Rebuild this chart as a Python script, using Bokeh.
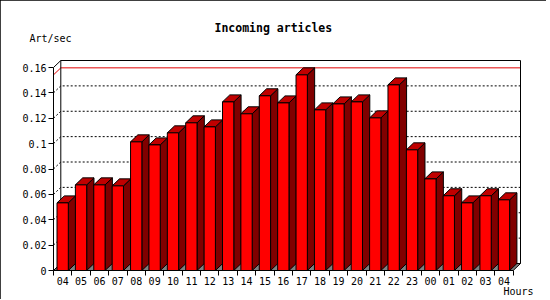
from bokeh.plotting import figure
from bokeh.models import (Range1d, FixedTicker, CustomJSTickFormatter, Title, LinearAxis)
from bokeh.embed import file_html
from bokeh.resources import INLINE

# ---- data ----
hours = ["04", "05", "06", "07", "08", "09", "10", "11", "12", "13", "14", "15",
         "16", "17", "18", "19", "20", "21", "22", "23", "00", "01", "02", "03", "04"]
rates = [0.0533, 0.0675, 0.0675, 0.0667, 0.1014, 0.0990, 0.1085, 0.1164, 0.1132,
         0.1329, 0.1235, 0.1377, 0.1321, 0.1542, 0.1266, 0.1313, 0.1329, 0.1203,
         0.1463, 0.0951, 0.0722, 0.0589, 0.0533, 0.0589, 0.0557]
y_ticks = [0, 0.02, 0.04, 0.06, 0.08, 0.10, 0.12, 0.14, 0.16]
grid_values = [0.02, 0.04, 0.06, 0.08, 0.10, 0.12, 0.14]
chart_title = "Incoming articles"
y_label = "Art/sec"
x_label = "Hours"

# ---- geometry (pixels) ----
W, H = 546, 299
FRAME_L, FRAME_B = 53, 29
FRAME_W, FRAME_H = 469, 211
PPX = 18.388      # px per category
PPY = 1268.75     # px per unit of value
D = 7.3 / PPX     # depth in x units
DY = 7.0 / PPY    # depth in y units
BAR_OFF = 3.5 / PPX
BAR_W = 11.3 / PPX
n = len(hours)
ytop = y_ticks[-1]
FONT = "DejaVu Sans Mono"

p = figure(width=W, height=H, output_backend="svg", toolbar_location=None,
           x_range=Range1d(0, FRAME_W / PPX), y_range=Range1d(0, FRAME_H / PPY),
           min_border_left=FRAME_L, min_border_right=W - FRAME_L - FRAME_W,
           min_border_top=H - FRAME_B - FRAME_H, min_border_bottom=FRAME_B,
           background_fill_color="white", border_fill_color="white")
p.outline_line_color = None
p.grid.visible = False
p.styles = {"outline": "1px solid black", "outline-offset": "-1px"}

# ---- main axes (grab them before adding any other axis) ----
xa = p.below[0]
ya = p.left[0]

ya.ticker = FixedTicker(ticks=y_ticks)
ya.formatter = CustomJSTickFormatter(
    code="return tick.toFixed(2).replace(/0+$/, '').replace(/\\.$/, '');")
ya.bounds = (0, ytop)
ya.major_tick_out = 5
ya.major_tick_in = 0
ya.minor_tick_line_color = None
ya.major_label_standoff = 2
ya.axis_line_color = "black"
ya.major_tick_line_color = "black"
ya.major_label_text_font = FONT
ya.major_label_text_font_size = "10px"
ya.major_label_text_color = "black"

xa.ticker = FixedTicker(ticks=[i + 0.5 for i in range(n)],
                        minor_ticks=[i for i in range(n + 1)])
xa.formatter = CustomJSTickFormatter(args=dict(labels=hours),
                                     code="return labels[Math.floor(tick)] || '';")
xa.bounds = (0, n)
xa.major_tick_line_color = None
xa.major_tick_out = 4
xa.major_tick_in = 0
xa.minor_tick_out = 5
xa.minor_tick_in = 0
xa.minor_tick_line_color = "black"
xa.major_label_standoff = 1
xa.axis_line_color = "black"
xa.major_label_text_font = FONT
xa.major_label_text_font_size = "10px"
xa.major_label_text_color = "black"

# ---- titles ----
p.title.text = chart_title
p.title.align = "left"
p.title.offset = 161
p.title.standoff = -11
p.title.text_font = FONT
p.title.text_font_size = "11.5px"
p.title.text_font_style = "bold"
p.title.text_color = "black"

# unit label above the value axis (drawn as a single-tick axis label)
unit_axis = LinearAxis(
    ticker=FixedTicker(ticks=[0]),
    formatter=CustomJSTickFormatter(args=dict(text=y_label + "\u00a0"), code="return text;"),
    axis_line_color=None, major_tick_line_color=None, minor_tick_line_color=None,
    major_tick_out=0, major_tick_in=0, minor_tick_out=0, minor_tick_in=0,
    major_label_standoff=16, major_label_text_font=FONT,
    major_label_text_font_size="10px", major_label_text_color="black")
p.add_layout(unit_axis, "above")

p.add_layout(Title(text=x_label, align="right", offset=-11, standoff=-8, text_font=FONT,
                   text_font_size="10px", text_font_style="normal",
                   text_color="black"), "below")

# floor
p.patch([0, n, n + D, D], [0, 0, DY, DY], fill_color="#808080",
        line_color="black", line_width=1)

# dotted grid lines on back wall + left side
gx = [[0, D, n + D] for _ in grid_values]
gy = [[g, g + DY, g + DY] for g in grid_values]
p.multi_line(gx, gy, line_color="black", line_width=1, line_dash="2 2")

# max line in red
vmax = max(rates)
p.line([0, D, n + D], [vmax, vmax + DY, vmax + DY], line_color="#e00000", line_width=1)

# back wall frame
p.line([0, D, n + D, n + D], [ytop, ytop + DY, ytop + DY, DY], line_color="black", line_width=1)
p.line([D, D], [DY, ytop + DY], line_color="black", line_width=1)

# bars
fx, fy, sx, sy, tx, ty = [], [], [], [], [], []
for i, v in enumerate(rates):
    x0 = i + BAR_OFF
    x1 = x0 + BAR_W
    fx.append([x0, x1, x1, x0]); fy.append([0, 0, v, v])
    sx.append([x1, x1 + D, x1 + D, x1]); sy.append([0, DY, v + DY, v])
    tx.append([x0, x1, x1 + D, x0 + D]); ty.append([v, v, v + DY, v + DY])
p.patches(sx, sy, fill_color="#800000", line_color="black", line_width=1)
p.patches(tx, ty, fill_color="#c00000", line_color="black", line_width=1)
p.patches(fx, fy, fill_color="#ff0000", line_color="black", line_width=1)

open("out.html", "w").write(file_html(p, INLINE))
